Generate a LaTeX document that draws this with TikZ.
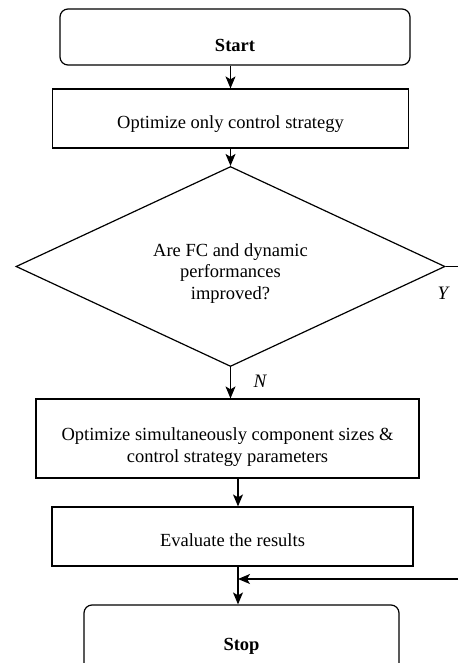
\documentclass[tikz,border=0pt]{standalone}
\usepackage{fontspec}
\setmainfont{Liberation Serif}
\usetikzlibrary{shapes.geometric,arrows.meta}

\begin{document}
\begin{tikzpicture}[x=1pt,y=-1pt,line width=1.2pt,
  >={Stealth[length=12pt,width=10pt,inset=3pt]},
  txt/.style={font=\fontsize{18.5}{21.5}\selectfont,align=center,inner sep=0pt},
  term/.style={txt,draw,rounded corners=8pt},
  proc/.style={txt,draw},
  cond/.style={txt,draw,diamond,aspect=2.145,minimum width=429pt,minimum height=200pt},
  yn/.style={font=\fontsize{19}{22}\selectfont\itshape}]
\clip (0,0) rectangle (458,663);
\node[term,minimum width=350pt,minimum height=56pt,text height=30pt] (start) at (235,37) {\bfseries Start};
\node[proc,minimum width=356pt,minimum height=59pt,text height=24pt] (opt1) at (230.5,118.5) {Optimize only control strategy};
\node[cond,text height=69pt] (dec) at (230.5,266.5) {Are FC and dynamic\\performances\\improved?};
\node[proc,minimum width=383pt,minimum height=79pt,text height=51pt] (sim) at (227.5,438.5) {Optimize simultaneously component sizes \&\\control strategy parameters};
\node[proc,minimum width=361pt,minimum height=59pt,text height=20pt] (eval) at (232.5,536.5) {Evaluate the results};
\node[term,minimum width=315pt,minimum height=74pt,text height=21pt] (stop) at (241.5,642) {\bfseries Stop};
\coordinate (spine) at (238,0);
\coordinate (yout) at (458,266.5);
\coordinate (yin) at (458,579);
\node[yn] (lblY) at (443,293) {Y};
\node[yn] (lblN) at (260,381) {N};
\draw[->] (start.south -| opt1.north) -- (opt1.north);
\draw[->] (opt1.south) -- (dec.north);
\draw[->] (dec.south) -- (dec.south |- sim.north);
\draw[->] (sim.south -| spine) -- (eval.north -| spine);
\draw[->] (eval.south -| spine) -- (stop.north -| spine);
\draw (dec.east) -- (yout);
\draw[->] (yin) -- (yin -| spine);
\end{tikzpicture}
\end{document}
